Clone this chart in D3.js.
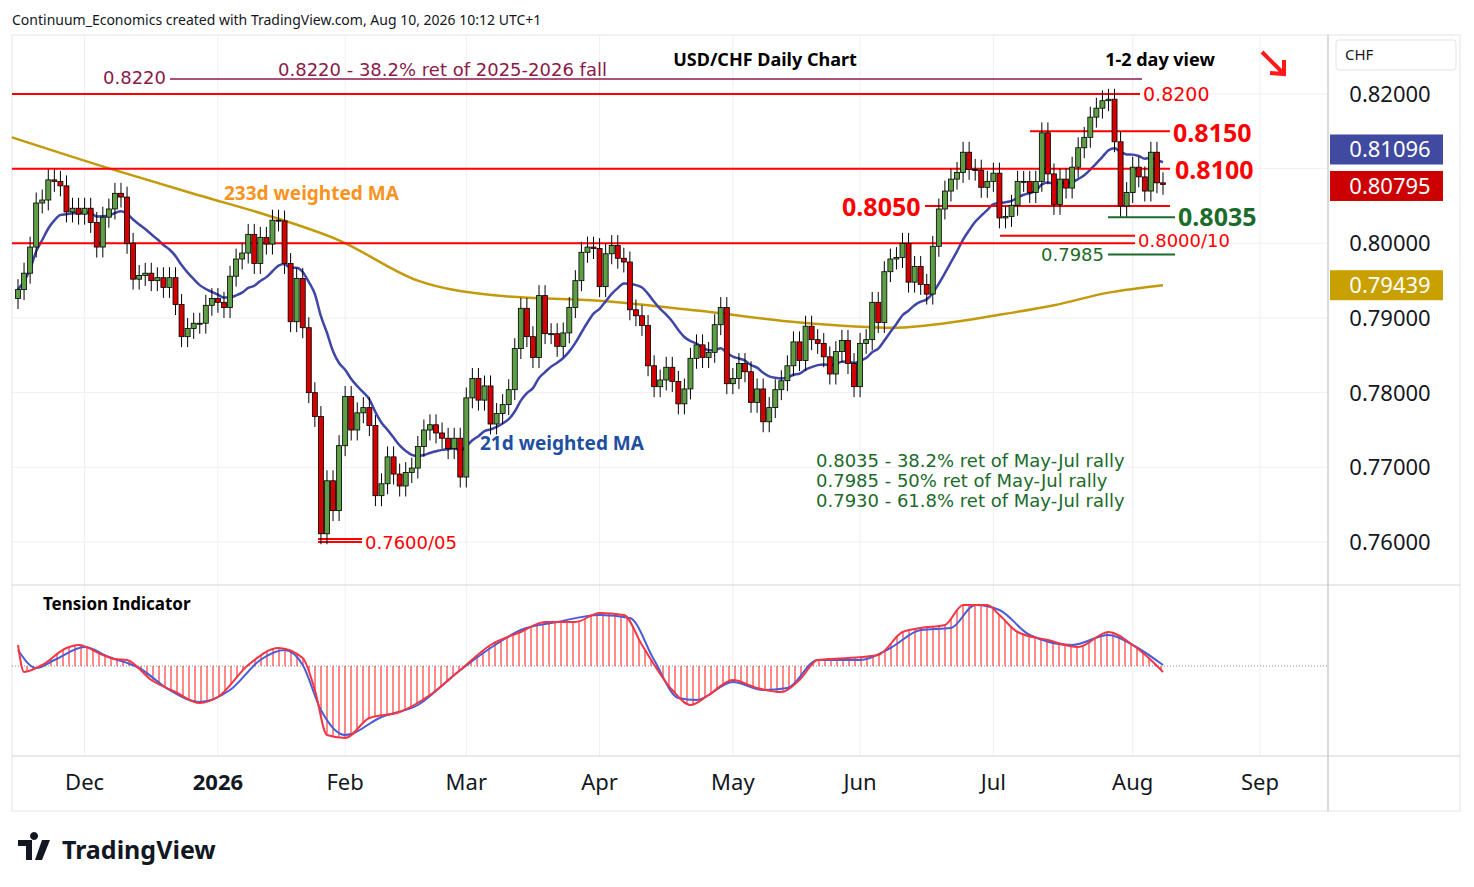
<!DOCTYPE html>
<html><head><meta charset="utf-8">
<script src="https://cdn.jsdelivr.net/npm/d3@7/dist/d3.min.js"></script>
<style>body{margin:0;background:#fff;font-family:"Noto Sans","DejaVu Sans",sans-serif}</style>
</head><body><svg width="1474" height="887"></svg>
<script>
var closes = [
0.7938,0.7960,0.7995,0.8054,0.8058,0.8085,0.8083,0.8077,0.8042,0.8047,0.8039,0.8047,0.8028,0.7995,0.8035,0.8046,0.8067,0.8062,0.8000,0.7952,
0.7957,0.7960,0.7950,0.7954,0.7941,0.7954,0.7918,0.7875,0.7886,0.7893,0.7893,0.7917,0.7926,0.7921,0.7914,0.7956,0.7979,0.7987,0.8012,0.7973,
0.8008,0.7999,0.8031,0.8030,0.7973,0.7895,0.7953,0.7887,0.7800,0.7768,0.7611,0.7682,0.7642,0.7729,0.7795,0.7750,0.7773,0.7780,0.7756,0.7662,
0.7678,0.7714,0.7691,0.7675,0.7693,0.7699,0.7728,0.7750,0.7757,0.7746,0.7739,0.7725,0.7739,0.7687,0.7793,0.7819,0.7790,0.7809,0.7758,0.7772,
0.7784,0.7804,0.7859,0.7913,0.7875,0.7847,0.7930,0.7879,0.7879,0.7862,0.7880,0.7914,0.7950,0.7988,0.7995,0.7993,0.7942,0.7986,0.7997,0.7980,
0.7975,0.7911,0.7903,0.7890,0.7836,0.7808,0.7817,0.7834,0.7815,0.7785,0.7805,0.7846,0.7864,0.7847,0.7854,0.7891,0.7914,0.7812,0.7819,0.7839,
0.7828,0.7787,0.7805,0.7761,0.7780,0.7804,0.7816,0.7836,0.7868,0.7843,0.7889,0.7871,0.7866,0.7848,0.7825,0.7855,0.7870,0.7839,0.7808,0.7866,
0.7871,0.7921,0.7894,0.7962,0.7979,0.7981,0.8000,0.7948,0.7969,0.7945,0.7932,0.7996,0.8046,0.8070,0.8086,0.8095,0.8122,0.8099,0.8098,0.8075,
0.8083,0.8094,0.8034,0.8036,0.8051,0.8083,0.8083,0.8068,0.8083,0.8148,0.8093,0.8052,0.8086,0.8074,0.8102,0.8128,0.8142,0.8169,0.8181,0.8191,
0.8193,0.8136,0.8050,0.8068,0.8102,0.8089,0.8070,0.8122,0.8081,0.8079];
var firstOpen = 0.7926;
var months = ["Dec","2026","Feb","Mar","Apr","May","Jun","Jul","Aug","Sep"];
var monthBars = [11,33,54,74,96,118,139,161,184,205];
var gridTicks = [0.76,0.77,0.78,0.79,0.80,0.81,0.82];
var priceTicks = [0.76,0.77,0.78,0.79,0.80,0.82];
var ma233Bar = [-1,16,30,41,53,66,79,96,112,129,145,153,161,171,180,189];
var ma233Val = [0.8142,0.8098,0.8064,0.8038,0.8004,0.7950,0.7930,0.7923,0.7910,0.7894,0.7887,0.7893,0.7903,0.7917,0.7934,0.7944];
var tenBar = [0,1,4,8,10,14,16,18,22,26,30,33,38,43,47,49,51,54,58,63,68,73,78,83,87,92,96,100,103,108,111,114,118,122,126,129,132,137,142,146,149,153,156,160,162,165,170,175,180,184,187,189];
var tenRed = [2.1,-0.6,0.1,1.8,2.1,1.1,0.7,0.6,-1.4,-2.6,-3.7,-3.1,0.1,1.8,0.8,-2.4,-6.9,-7.2,-5.2,-4.6,-2.9,-0.4,2.1,3.4,4.4,4.4,5.3,5.1,2.1,-2.4,-3.9,-2.9,-1.4,-2.2,-2.6,-1.4,0.6,0.8,1.1,3.4,3.8,4.1,6.1,6.1,5.1,3.4,2.6,1.9,3.4,2.1,0.6,-0.6];
var blueBar = [0,3,6,11,15,20,25,30,35,40,44,47,50,54,60,66,72,78,83,89,96,101,105,109,112,118,123,127,132,139,144,149,154,158,162,167,174,180,184,189];
var tenBlue = [1.6,-0.2,0.6,1.9,0.9,-0.2,-2.4,-3.6,-2.4,0.6,1.6,0.1,-4.4,-6.9,-5.1,-3.9,-0.9,1.8,3.6,4.4,5.1,4.8,0.6,-3.2,-3.4,-1.6,-2.4,-2.2,0.6,0.6,1.8,3.6,3.8,6.1,5.6,3.1,2.1,3.1,2.1,0.1];

var svg = d3.select("svg");
var L = 12, R = 1328;
var x = d3.scaleLinear().domain([0, 189]).range([18, 1163]);
var y = d3.scaleLinear().domain([0.76, 0.82]).range([542, 94]);
var yt = d3.scaleLinear().domain([-10, 10]).range([766, 566]);

// frame + grid
svg.append("rect").attr("x",L).attr("y",35).attr("width",1448).attr("height",776).attr("fill","none").attr("stroke","#e0e3eb");
var grid = svg.append("g").attr("stroke","#edf0f4");
grid.selectAll(".h").data(gridTicks).enter().append("line").attr("x1",L).attr("x2",R).attr("y1",d=>y(d)).attr("y2",d=>y(d));
grid.selectAll(".v").data(monthBars).enter().append("line").attr("x1",d=>x(d)).attr("x2",d=>x(d)).attr("y1",35).attr("y2",756);
svg.append("line").attr("x1",L).attr("x2",1460).attr("y1",585).attr("y2",585).attr("stroke","#d1d4dc");
svg.append("line").attr("x1",L).attr("x2",1460).attr("y1",756).attr("y2",756).attr("stroke","#d1d4dc");
svg.append("line").attr("x1",R).attr("x2",R).attr("y1",35).attr("y2",811).attr("stroke","#b2b5be");

// axes text
svg.append("g").selectAll("text").data(priceTicks).enter().append("text")
 .attr("x",1390).attr("y",d=>y(d)+8).attr("text-anchor","middle").attr("font-size",22).attr("fill","#131722")
 .text(d=>d.toFixed(5));
svg.append("g").selectAll("text").data(months).enter().append("text")
 .attr("x",(d,i)=>x(monthBars[i])).attr("y",790).attr("text-anchor","middle").attr("font-size",22)
 .attr("font-weight",d=>d==="2026"?"bold":"normal").attr("fill","#131722").text(d=>d);

// MA233
var mline = d3.line().x(d=>x(d[0])).y(d=>y(d[1])).curve(d3.curveMonotoneX);
svg.append("path").datum(ma233Bar.map((b,i)=>[b,ma233Val[i]])).attr("d",mline).attr("fill","none").attr("stroke","#c49a0c").attr("stroke-width",2.5);
// WMA21
var wma = closes.map(function(c,i){var s=0,w=0;for(var k=0;k<21&&i-k>=0;k++){s+=closes[i-k]*(21-k);w+=21-k;}return [i,s/w];});
svg.append("path").datum(wma).attr("d",mline).attr("fill","none").attr("stroke","#3f46a6").attr("stroke-width",2.5);

// levels
function hl(p,x1,x2,col,w){svg.append("line").attr("x1",x1).attr("x2",x2).attr("y1",y(p)).attr("y2",y(p)).attr("stroke",col).attr("stroke-width",w||2);}
function tx(t,xx,yy,col,fs,anchor,wt,fam){var e=svg.append("text").attr("x",xx).attr("y",yy).attr("fill",col).attr("font-size",fs).attr("text-anchor",anchor||"start").attr("font-weight",wt||"normal").text(t);if(fam)e.attr("font-family",fam);return e;}
hl(0.8220,170,1142,"#8b1a4a",1.5);
hl(0.8200,L,1140,"#ff0000");
hl(0.8150,1030,1170,"#ff0000");
hl(0.8100,L,1170,"#ff0000");
hl(0.8050,925,1170,"#ff0000");
hl(0.8035,1108,1175,"#1b6b2a");
hl(0.8010,1000,1135,"#ff0000");
hl(0.8000,L,1135,"#ff0000");
hl(0.7985,1108,1175,"#1b6b2a");
hl(0.7604,318,362,"#ff0000");
hl(0.7600,318,362,"#ff0000");

// candles
var g = svg.append("g");
closes.forEach(function(c,i){
  var o = i===0?firstOpen:closes[i-1];
  var up = c>=o, hi=Math.max(o,c)+0.0014, lo=Math.min(o,c)-0.0014;
  g.append("line").attr("x1",x(i)).attr("x2",x(i)).attr("y1",y(hi)).attr("y2",y(lo)).attr("stroke","#000").attr("stroke-width",1);
  var t=y(Math.max(o,c)), h=Math.max(1,y(Math.min(o,c))-t);
  g.append("rect").attr("x",x(i)-2.5).attr("y",t).attr("width",5).attr("height",h)
   .attr("fill",up?"#5e9e44":"#d40000").attr("stroke","#000").attr("stroke-width",0.8);
});

// labels
var DV = "DejaVu Sans";
tx("Continuum_Economics created with TradingView.com, Aug 10, 2026 10:12 UTC+1",12,25,"#131722",14);
tx("USD/CHF Daily Chart",765,66,"#000",18,"middle","bold");
tx("1-2 day view",1160,66,"#000",18,"middle","bold");
svg.append("path").attr("d","M1262,52 L1282,72 M1270,73 L1284,74 L1284,60").attr("stroke","#ff1a1a").attr("stroke-width",4).attr("fill","none");
svg.append("rect").attr("x",1336).attr("y",40).attr("width",120).attr("height",30).attr("rx",3).attr("fill","#fff").attr("stroke","#e0e3eb");
tx("CHF",1345,60,"#131722",15);
tx("0.8220",103,84,"#8b1a4a",18,"start","normal",DV);
tx("0.8220 - 38.2% ret of 2025-2026 fall",278,76,"#8b1a4a",18,"start","normal",DV);
tx("0.8200",1143,101,"#ff0000",19,"start","normal",DV);
tx("0.8150",1173,142,"#ff0000",25,"start","bold");
tx("0.8100",1175,179,"#ff0000",25,"start","bold");
tx("0.8050",842,216,"#ff0000",25,"start","bold");
tx("0.8035",1178,226,"#1b6b2a",25,"start","bold");
tx("0.8000/10",1138,247,"#ff0000",18,"start","normal",DV);
tx("0.7985",1041,261,"#1b6b2a",18,"start","normal",DV);
tx("0.7600/05",365,549,"#ff0000",18,"start","normal",DV);
tx("233d weighted MA",224,200,"#f7931e",19,"start","bold");
tx("21d weighted MA",480,450,"#1e4fa0",19,"start","bold");
tx("0.8035 - 38.2% ret of May-Jul rally",816,467,"#1b6b2a",18,"start","normal",DV);
tx("0.7985 - 50% ret of May-Jul rally",816,487,"#1b6b2a",18,"start","normal",DV);
tx("0.7930 - 61.8% ret of May-Jul rally",816,507,"#1b6b2a",18,"start","normal",DV);
tx("Tension Indicator",43,610,"#000",17,"start","bold");

// badges (first two nudged apart like the platform does)
[[0.81096,"#3f4aa0",-12],[0.80795,"#cc0000",2],[0.79439,"#c8a000",0]].forEach(function(b){
  var cy = y(b[0])+b[2];
  svg.append("rect").attr("x",1330).attr("y",cy-15).attr("width",113).attr("height",30).attr("fill",b[1]);
  tx(b[0].toFixed(5),1390,cy+8,"#fff",22,"middle");
});

// tension
var defs = svg.append("defs");
var pat = defs.append("pattern").attr("id","hatch").attr("width",6).attr("height",10).attr("patternUnits","userSpaceOnUse");
pat.append("line").attr("x1",3).attr("x2",3).attr("y1",0).attr("y2",10).attr("stroke","#ff3b3b").attr("stroke-width",1.2);
svg.append("line").attr("x1",L).attr("x2",R).attr("y1",yt(0)).attr("y2",yt(0)).attr("stroke","#888").attr("stroke-dasharray","1,2");
var redPts = tenBar.map((b,i)=>[b,tenRed[i]]);
svg.append("path").datum(redPts).attr("d",d3.area().x(d=>x(d[0])).y0(yt(0)).y1(d=>yt(d[1])).curve(d3.curveMonotoneX)).attr("fill","url(#hatch)");
svg.append("path").datum(tenBlue.map((v,i)=>[blueBar[i],v])).attr("d",d3.line().x(d=>x(d[0])).y(d=>yt(d[1])).curve(d3.curveMonotoneX)).attr("fill","none").attr("stroke","#4a5cd6").attr("stroke-width",2);
svg.append("path").datum(redPts).attr("d",d3.line().x(d=>x(d[0])).y(d=>yt(d[1])).curve(d3.curveMonotoneX)).attr("fill","none").attr("stroke","#f23645").attr("stroke-width",2);

// logo
svg.append("path").attr("d","M18,840 h14 v20 h-6 v-14 h-8 z M34,840 a4,4 0 1,1 0.1,0 M42,840 h8 l-8,20 h-7 z").attr("fill","#131722");
tx("TradingView",62,859,"#131722",25,"start","bold");
</script></body></html>
